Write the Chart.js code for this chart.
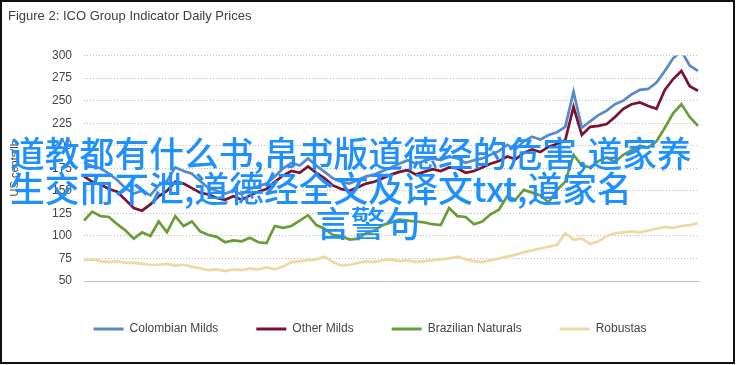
<!DOCTYPE html>
<html>
<head>
<meta charset="utf-8">
<script src="https://cdn.jsdelivr.net/npm/chart.js@4.4.1/dist/chart.umd.min.js"></script>
<style>
  body { margin: 0; background: #fff; }
  #wrap { position: relative; width: 736px; height: 365px; overflow: hidden; }
  #frame { position: absolute; left: 0; top: 0; width: 735px; height: 364px; box-sizing: border-box; border: 2px solid #111; pointer-events: none; }
  #mark { position: absolute; left: 10px; top: 135px; width: 716px; font-family: "Noto Sans CJK SC", sans-serif; font-size: 34.8px; font-weight: 500; line-height: 35px; color: #1e90ff; white-space: nowrap; }
  #mark .c { text-align: center; }
</style>
</head>
<body>
<div id="wrap">
  <canvas id="myChart" width="736" height="365"></canvas>
  <div id="frame"></div>
  <div id="mark">
    <div>道教都有什么书,帛书版道德经的危害,道家养</div>
    <div>生交而不泄,道德经全文及译文txt,道家名</div>
    <div class="c">言警句</div>
  </div>
</div>
<script>
// three readings per month: 1st, 11th, 21st
const months = ['2019-12', '2020-01', '2020-02', '2020-03', '2020-04', '2020-05', '2020-06',
  '2020-07', '2020-08', '2020-09', '2020-10', '2020-11', '2020-12', '2021-01', '2021-02',
  '2021-03', '2021-04', '2021-05', '2021-06', '2021-07', '2021-08', '2021-09', '2021-10',
  '2021-11', '2021-12'];
const days = ['01', '11', '21'];
const tickLabels = ['Dec-19', 'Mar-20', 'Jun-20', 'Sep-20', 'Dec-20', 'Mar-21', 'Jun-21', 'Sep-21', 'Dec-21'];

const colombianMilds = [182, 177, 175, 169, 162, 153, 147, 150, 145, 156, 161, 176,
  172, 169, 161, 153, 150, 147, 150, 146, 152, 155, 158, 166,
  175, 181, 178, 186, 178, 171, 164, 160, 158, 162, 166, 168,
  172, 176, 180, 184, 180, 183, 186, 184, 188, 186, 181, 184,
  186, 190, 194, 201, 196, 205, 210, 207, 212, 215, 221, 260,
  220, 227, 234, 239, 246, 250, 257, 262, 263, 270, 283, 297,
  305, 289, 283];
const otherMilds = [166, 160, 157, 152, 149, 140, 131, 128, 135, 144, 150, 160,
  158, 153, 148, 146, 142, 140, 144, 140, 145, 149, 152, 160,
  167, 172, 170, 177, 170, 164, 156, 152, 150, 154, 158, 160,
  164, 168, 171, 173, 168, 171, 174, 172, 176, 175, 170, 172,
  176, 180, 183, 188, 185, 192, 196, 193, 199, 202, 206, 243,
  212, 221, 222, 224, 232, 241, 246, 248, 244, 241, 262, 274,
  283, 266, 261];
const brazilianNaturals = [117, 127, 122, 121, 113, 106, 97, 104, 100, 116, 104, 122,
  111, 116, 105, 101, 99, 93, 95, 94, 98, 93, 92, 111,
  109, 111, 117, 123, 112, 108, 101, 100, 96, 97, 103, 106,
  112, 115, 118, 117, 116, 115, 113, 112, 131, 122, 121, 113,
  116, 124, 129, 144, 140, 151, 148, 145, 137, 151, 160, 190,
  178, 176, 183, 187, 182, 190, 195, 200, 198, 205, 220, 236,
  246, 232, 222];
const robustas = [73, 74, 72, 71, 72, 70, 70, 69, 68, 68, 69, 67,
  68, 66, 64, 62, 63, 61, 63, 62, 64, 63, 65, 63,
  66, 71, 72, 73, 74, 77, 71, 67, 68, 70, 72, 71,
  73, 74, 72, 73, 71, 72, 73, 74, 75, 77, 74, 72,
  71, 73, 75, 77, 79, 82, 84, 86, 88, 90, 103, 96,
  97, 91, 94, 100, 103, 104, 105, 104, 106, 108, 110, 109,
  111, 112, 114];

const categories = [];
months.forEach(m => days.forEach(d => categories.push(m + '-' + d)));

const textColor = '#444444';
const font = { family: 'Liberation Sans', size: 12 };

const ctx = document.getElementById('myChart').getContext('2d');
new Chart(ctx, {
  type: 'line',
  data: {
    labels: categories,
    datasets: [
      { label: 'Colombian Milds', data: colombianMilds, borderColor: '#5a8ac6', backgroundColor: '#5a8ac6' },
      { label: 'Other Milds', data: otherMilds, borderColor: '#7a1230', backgroundColor: '#7a1230' },
      { label: 'Brazilian Naturals', data: brazilianNaturals, borderColor: '#6a9d3a', backgroundColor: '#6a9d3a' },
      { label: 'Robustas', data: robustas, borderColor: '#eed8a4', backgroundColor: '#eed8a4' }
    ]
  },
  options: {
    responsive: false,
    animation: false,
    devicePixelRatio: 1,
    elements: {
      point: { radius: 0 },
      line: { borderWidth: 2.7, tension: 0 }
    },
    layout: { padding: { left: 8, right: 4, top: 0, bottom: 20 } },
    plugins: {
      title: {
        display: true,
        text: 'Figure 2: ICO Group Indicator Daily Prices',
        align: 'start',
        color: '#404040',
        font: { family: 'Liberation Sans', size: 13, weight: 'normal' },
        padding: { top: 9, bottom: 31 }
      },
      legend: {
        position: 'bottom',
        labels: {
          boxWidth: 30,
          boxHeight: 3,
          padding: 38,
          color: textColor,
          font: font,
          // plain coloured bars, no outline
          generateLabels: chart => Chart.defaults.plugins.legend.labels.generateLabels(chart)
            .map(l => Object.assign(l, { lineWidth: 0 }))
        }
      },
      tooltip: { enabled: false }
    },
    scales: {
      x: {
        grid: { display: false, drawTicks: false },
        border: { display: true, color: '#bfbfbf', width: 1 },
        ticks: {
          autoSkip: false,
          maxRotation: 0,
          minRotation: 0,
          padding: 11,
          color: textColor,
          font: font,
          callback: (v, i) => (i % 9 === 0 ? tickLabels[i / 9] : '')
        },
        afterFit: s => { s.height = 4; }
      },
      y: {
        min: 50,
        max: 300,
        ticks: { stepSize: 25, padding: 12, color: textColor, font: font },
        grid: { color: '#bdbdbd', drawTicks: false, lineWidth: 1 },
        border: { display: false, dash: [1, 2] },
        title: {
          display: true,
          text: 'US cents/lb',
          color: textColor,
          font: { family: 'Liberation Sans', size: 11 },
          padding: { top: 0, bottom: 0 }
        },
        afterFit: s => { s.width = 76; }
      },
      y2: {
        position: 'right',
        grid: { display: false },
        border: { display: false },
        ticks: { display: false },
        afterFit: s => { s.width = 34; }
      }
    }
  }
});
</script>
</body>
</html>
